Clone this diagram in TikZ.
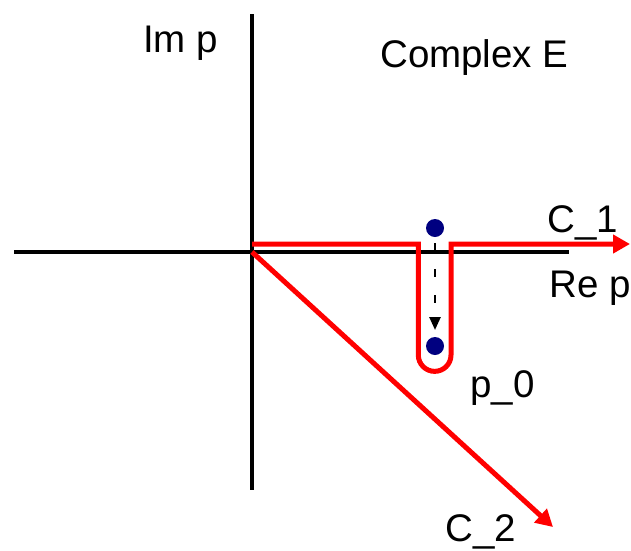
\documentclass[tikz,border=0pt]{standalone}
\usepackage{fontspec}
\setmainfont{Liberation Sans}
\usetikzlibrary{arrows.meta}
\definecolor{dotblue}{RGB}{0,0,128}
\begin{document}
\begin{tikzpicture}[x=1pt,y=-1pt,
  lab/.style={anchor=base west,inner sep=0pt,font=\fontsize{38.5}{40}\selectfont},
  axis/.style={line width=3.5pt,black},
  contour/.style={line width=5pt,red,-{Triangle[length=17pt,width=18pt]}},
  pole/.style={circle,fill=dotblue,minimum size=18pt,inner sep=0pt}]
\useasboundingbox (0,0) rectangle (631,550);
% axes
\coordinate (xl) at (14,252);
\coordinate (xr) at (569,252);
\coordinate (yt) at (252,14);
\coordinate (yb) at (252,490);
\draw[axis] (xl) -- (xr);
\draw[axis] (yt) -- (yb);
% contour points
\coordinate (o) at (252,244);
\coordinate (o2) at (252,252);
\coordinate (dl) at (418.3,244);
\coordinate (dr) at (451,244);
\coordinate (e1) at (630,244);
\coordinate (e2) at (553,527);
% poles
\node[pole] (ptop) at (435,228) {};
\node[pole] (pbot) at (435,346) {};
% C1 contour
\draw[contour,line join=miter] (o) -- (dl) -- ++(0,111) arc[start angle=180,end angle=0,radius=16.35] -- (dr) -- (e1);
% C2
\draw[contour] (o2) -- (e2);
% dashed shift arrow
\coordinate (sa) at (435,243);
\coordinate (sb) at (435,330);
\draw[line width=2.5pt,dash pattern=on 8pt off 18pt,-{Triangle[length=13pt,width=11pt]}] (sa) -- (sb);
% labels
\node[lab] (im) at (143,52) {Im p};
\node[lab] (ce) at (380,67) {Complex E};
\node[lab] (c1) at (547,232) {C\_1};
\node[lab] (re) at (549,297) {Re p};
\node[lab] (p0) at (470,397) {p\_0};
\node[lab] (c2) at (445,541) {C\_2};
\end{tikzpicture}
\end{document}
